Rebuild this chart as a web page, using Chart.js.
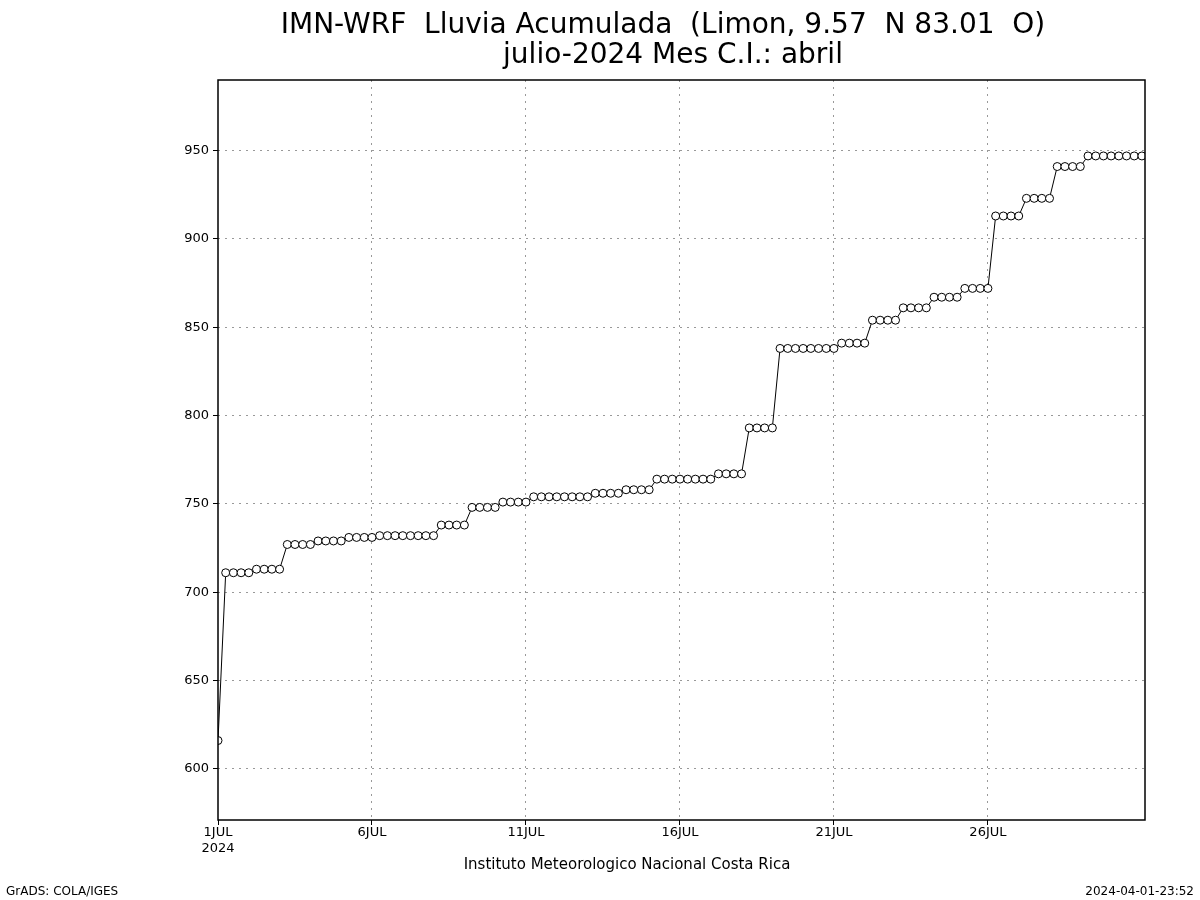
<!DOCTYPE html>
<html>
<head>
<meta charset="utf-8">
<script src="https://cdn.jsdelivr.net/npm/chart.js@4"></script>
<style>
  body { margin: 0; background: #fff; }
  #wrap { width: 1200px; height: 900px; }
</style>
</head>
<body>
<div id="wrap"><canvas id="rain" width="1200" height="900"></canvas></div>
<script>
// 6-hourly accumulated rain (mm), starting 1 JUL 00Z
const rainValues = [
  616,
  711, 711, 711, 711,
  713, 713, 713, 713,
  727, 727, 727, 727,
  729, 729, 729, 729,
  731, 731, 731, 731,
  732, 732, 732, 732, 732, 732, 732, 732,
  738, 738, 738, 738,
  748, 748, 748, 748,
  751, 751, 751, 751,
  754, 754, 754, 754, 754, 754, 754, 754,
  756, 756, 756, 756,
  758, 758, 758, 758,
  764, 764, 764, 764, 764, 764, 764, 764,
  767, 767, 767, 767,
  793, 793, 793, 793,
  838, 838, 838, 838, 838, 838, 838, 838,
  841, 841, 841, 841,
  854, 854, 854, 854,
  861, 861, 861, 861,
  867, 867, 867, 867,
  872, 872, 872, 872,
  913, 913, 913, 913,
  923, 923, 923, 923,
  941, 941, 941, 941,
  947, 947, 947, 947, 947, 947, 947, 947
];
const dayTicks = [0, 20, 40, 60, 80, 100];
const dayLabels = [['1JUL', '2024'], '6JUL', '11JUL', '16JUL', '21JUL', '26JUL'];
const yTicks = [600, 650, 700, 750, 800, 850, 900, 950];
const titleLines = ['IMN-WRF  Lluvia Acumulada  (Limon, 9.57  N 83.01  O)', 'julio-2024 Mes C.I.: abril'];

const FONT = 'DejaVu Sans';
const points = rainValues.map((v, i) => ({ x: i, y: v }));

const decor = {
  id: 'decor',
  beforeDraw(chart) {
    const c = chart.ctx;
    c.save();
    c.fillStyle = '#fff';
    c.fillRect(0, 0, chart.width, chart.height);
    c.restore();
  },
  afterDraw(chart) {
    const c = chart.ctx, a = chart.chartArea;
    c.save();
    c.strokeStyle = '#000';
    c.lineWidth = 1.5;
    c.strokeRect(a.left, a.top, a.right - a.left, a.bottom - a.top);
    c.fillStyle = '#000';
    c.textAlign = 'center';
    c.textBaseline = 'alphabetic';
    c.font = '28px ' + FONT;
    c.fillText(titleLines[0], 663, 33);
    c.fillText(titleLines[1], 673, 63);
    c.font = '15px ' + FONT;
    c.fillText('Instituto Meteorologico Nacional Costa Rica', 627, 869);
    c.font = '12px ' + FONT;
    c.textAlign = 'left';
    c.fillText('GrADS: COLA/IGES', 6, 895);
    c.textAlign = 'right';
    c.fillText('2024-04-01-23:52', 1194, 895);
    c.restore();
  }
};

new Chart(document.getElementById('rain'), {
  type: 'line',
  data: {
    datasets: [{
      data: points,
      borderColor: '#000',
      borderWidth: 1,
      pointRadius: 4,
      pointBackgroundColor: '#fff',
      pointBorderColor: '#000',
      pointBorderWidth: 1,
      tension: 0
    }]
  },
  options: {
    responsive: false,
    animation: false,
    layout: { padding: { left: 0, right: 55, top: 80, bottom: 0 } },
    plugins: { legend: { display: false }, tooltip: { enabled: false } },
    scales: {
      x: {
        type: 'linear',
        min: 0,
        max: 120.4,
        afterFit: s => { s.height = 80; },
        afterBuildTicks: s => { s.ticks = dayTicks.map(v => ({ value: v })); },
        ticks: {
          color: '#000',
          font: { family: FONT, size: 13 },
          maxRotation: 0,
          padding: 0,
          callback: (v) => dayLabels[dayTicks.indexOf(v)]
        },
        grid: {
          color: (ctx) => ctx.tick && ctx.tick.value === 0 ? 'rgba(0,0,0,0)' : '#999',
          lineWidth: 1,
          drawTicks: true,
          tickLength: 5,
          tickColor: '#000'
        },
        border: { display: false, dash: [2, 5] }
      },
      y: {
        min: 571,
        max: 990,
        afterFit: s => { s.width = 218; },
        afterBuildTicks: s => { s.ticks = yTicks.map(v => ({ value: v })); },
        ticks: {
          color: '#000',
          font: { family: FONT, size: 13 },
          padding: 4
        },
        grid: {
          color: '#999',
          lineWidth: 1,
          tickLength: 5,
          tickColor: '#000'
        },
        border: { display: false, dash: [2, 5] }
      }
    }
  },
  plugins: [decor]
});
</script>
</body>
</html>
